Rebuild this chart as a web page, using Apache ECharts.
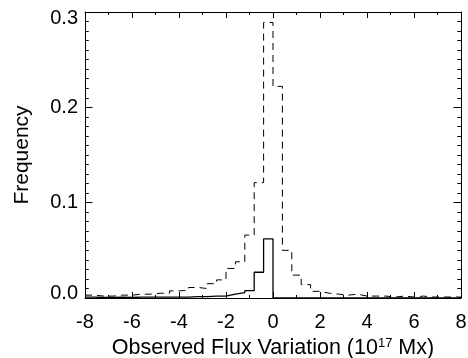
<!DOCTYPE html>
<html>
<head>
<meta charset="utf-8">
<script src="https://cdn.jsdelivr.net/npm/echarts@6/dist/echarts.min.js"></script>
<style>
  html, body { margin: 0; padding: 0; background: #fff; }
  #chart { width: 468px; height: 358px; }
</style>
</head>
<body>
<div id="chart"></div>
<script>
// histogram bins (centres, width 0.4)
const binWidth = 0.4;
const binCenters = [
  -7.8, -7.4, -7.0, -6.6, -6.2, -5.8, -5.4, -5.0, -4.6, -4.2,
  -3.8, -3.4, -3.0, -2.6, -2.2, -1.8, -1.4, -1.0, -0.6, -0.2,
  0.2, 0.6, 1.0, 1.4, 1.8, 2.2, 2.6, 3.0, 3.4, 3.8,
  4.2, 4.6, 5.0, 5.4, 5.8, 6.2, 6.6, 7.0, 7.4, 7.8
];
// dashed histogram
const allFreq = [
  0.003, 0.002, 0.002, 0.003, 0.003, 0.004, 0.004, 0.005, 0.005, 0.0075,
  0.008, 0.011, 0.010, 0.015, 0.019, 0.031, 0.038, 0.066, 0.121, 0.289,
  0.222, 0.050, 0.024, 0.014, 0.007, 0.005, 0.004, 0.003, 0.004, 0.002,
  0.002, 0.002, 0.001, 0.002, 0.001, 0.002, 0.001, 0.001, 0.001, 0.001
];
// solid histogram
const subFreq = [
  0.001, 0.0005, 0.0005, 0.001, 0.0005, 0.001, 0.001, 0.001, 0.001, 0.001,
  0.001, 0.0015, 0.0015, 0.002, 0.002, 0.004, 0.0056, 0.0077, 0.027, 0.062,
  0, 0, 0, 0, 0, 0, 0, 0, 0, 0,
  0, 0, 0, 0, 0, 0, 0, 0, 0, 0
];
const xTicks = [-8, -6, -4, -2, 0, 2, 4, 6, 8];
const yTicks = [0.0, 0.1, 0.2, 0.3];

// step outline: left edge of every bin plus the last right edge
function outline(vals) {
  const pts = binCenters.map((c, i) => [c - binWidth / 2, vals[i]]);
  pts.push([binCenters[binCenters.length - 1] + binWidth / 2, vals[vals.length - 1]]);
  return pts;
}

const font = 'Liberation Sans, Arial, Helvetica, sans-serif';
const black = '#000';

const xBase = {
  type: 'value',
  min: xTicks[0],
  max: xTicks[xTicks.length - 1],
  interval: 2,
  axisLine: { show: true, onZero: false, lineStyle: { color: black, width: 1 } },
  axisTick: { show: true, inside: true, length: 6, lineStyle: { color: black } },
  minorTick: { show: true, splitNumber: 2, length: 3, lineStyle: { color: black } },
  splitLine: { show: false }
};
const yBase = {
  type: 'value',
  min: yTicks[0],
  max: yTicks[yTicks.length - 1],
  interval: 0.1,
  axisLine: { show: true, onZero: false, lineStyle: { color: black, width: 1 } },
  axisTick: { show: true, inside: true, length: 7.5, lineStyle: { color: black } },
  minorTick: { show: true, splitNumber: 10, length: 3.75, lineStyle: { color: black } },
  splitLine: { show: false }
};

const chart = echarts.init(document.getElementById('chart'), null, { renderer: 'canvas' });
chart.setOption({
  backgroundColor: '#fff',
  animation: false,
  grid: { left: 85, right: 7, top: 12, bottom: 60, containLabel: false, outerBoundsMode: 'none' },
  xAxis: [
    Object.assign({}, xBase, {
      position: 'bottom',
      name: '{t|Observed Flux Variation (10}{s|17}{t| Mx)}',
      nameLocation: 'middle',
      nameGap: 34,
      nameTextStyle: {
        rich: {
          t: { fontFamily: font, fontSize: 21.5, color: black },
          s: { fontFamily: font, fontSize: 13, color: black, verticalAlign: 'top', padding: [0, 0, 9, 0] }
        }
      },
      axisLabel: { show: true, margin: 14, fontFamily: font, fontSize: 20, color: black }
    }),
    Object.assign({}, xBase, { position: 'top', axisLabel: { show: false } })
  ],
  yAxis: [
    Object.assign({}, yBase, {
      position: 'left',
      name: 'Frequency',
      nameLocation: 'middle',
      nameGap: 52,
      nameTextStyle: { fontFamily: font, fontSize: 21, color: black },
      axisLabel: {
        show: true, margin: 7, fontFamily: font, fontSize: 20, color: black,
        formatter: v => {
          const s = v.toFixed(1);
          if (v >= yTicks[yTicks.length - 1] - 1e-9) return '{hi|' + s + '}';
          if (v <= yTicks[0] + 1e-9) return '{lo|' + s + '}';
          return s;
        },
        rich: {
          hi: { fontFamily: font, fontSize: 20, color: black, padding: [12, 0, 0, 0] },
          lo: { fontFamily: font, fontSize: 20, color: black, padding: [0, 0, 10, 0] }
        }
      }
    }),
    Object.assign({}, yBase, { position: 'right', axisLabel: { show: false } })
  ],
  series: [
    {
      type: 'line',
      step: 'end',
      data: outline(allFreq),
      symbol: 'none',
      lineStyle: { color: black, width: 1, type: [7, 5] },
      silent: true
    },
    {
      type: 'line',
      step: 'end',
      data: outline(subFreq),
      symbol: 'none',
      lineStyle: { color: black, width: 1.3 },
      silent: true
    }
  ]
});
</script>
</body>
</html>
